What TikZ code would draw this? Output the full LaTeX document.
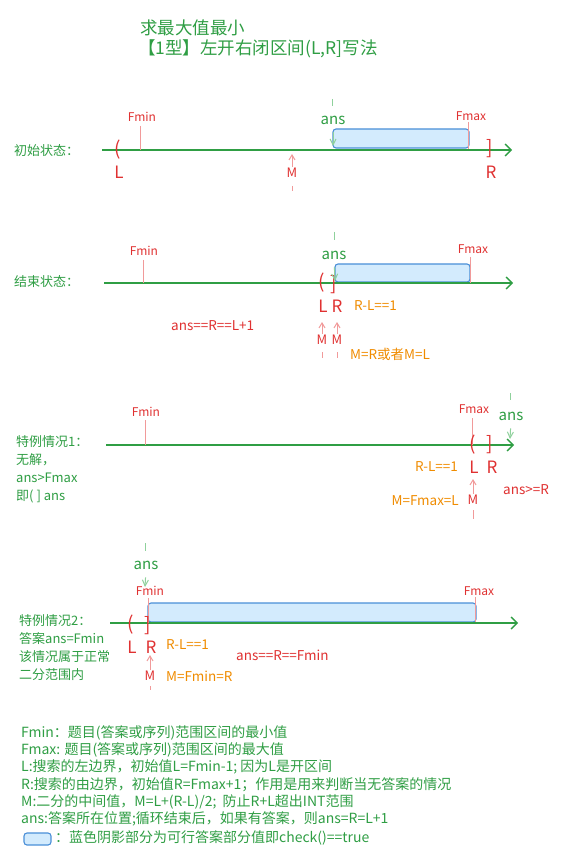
\documentclass[tikz,border=0pt]{standalone}
\usepackage{fontspec}
\setmainfont{Noto Sans CJK SC}
\usetikzlibrary{arrows.meta}
\definecolor{tgreen}{HTML}{2F9E44}
\definecolor{tred}{HTML}{E03131}
\definecolor{torange}{HTML}{F08C00}
\definecolor{tblue}{HTML}{4A8FD8}
\definecolor{tfill}{HTML}{D3EBFD}
\definecolor{tpink}{HTML}{F19A9A}
\definecolor{tlgreen}{HTML}{8FD19C}
\tikzset{
 gtext/.style={text=tgreen, font=\fontsize{13}{15}\selectfont, inner sep=0pt, anchor=west},
 legendtext/.style={text=tgreen, font=\fontsize{14}{16}\selectfont, inner sep=0pt, anchor=west},
 titletext/.style={text=tgreen, font=\fontsize{17.5}{20}\selectfont, inner sep=0pt, anchor=west},
 axisline/.style={draw=tgreen, line width=1.4pt, -{Straight Barb[length=6pt,width=12pt]}},
 tickline/.style={draw=tpink, line width=1pt},
 feas/.style={draw=tblue, fill=tfill, line width=1.1pt, rounded corners=3pt},
 flabel/.style={text=tred, font=\fontsize{12}{14}\selectfont, inner sep=0pt},
 brk/.style={text=tred, font=\fontsize{19}{21}\selectfont, inner sep=0pt},
 lrlabel/.style={text=tred, font=\fontsize{17}{19}\selectfont, inner sep=0pt},
 mlabel/.style={text=tred, font=\fontsize{13}{15}\selectfont, inner sep=1pt},
 marrow/.style={draw=tpink, line width=1pt, -{Straight Barb[length=5pt,width=6pt]}},
 mline/.style={draw=tpink, line width=1pt},
 anslabel/.style={text=tgreen, font=\fontsize{15}{17}\selectfont, inner sep=0pt},
 ansarrow/.style={draw=tlgreen, line width=1pt, -{Straight Barb[length=6pt,width=6pt]}},
 ansline/.style={draw=tlgreen, line width=1pt},
 onote/.style={text=torange, font=\fontsize{13.5}{15}\selectfont, inner sep=0pt},
 rnote/.style={text=tred, font=\fontsize{13.5}{15}\selectfont, inner sep=0pt},
}
\begin{document}
\begin{tikzpicture}[x=1pt,y=-1pt]
\useasboundingbox (0,0) rectangle (581,866);
\fill[white] (0,0) rectangle (581,866);

% title
\node[titletext] (t1) at (140,28) {求最大值最小};
\node[titletext] (t2) at (138,49) {【1型】左开右闭区间(L,R]写法};

% ---------- section 1 ----------
\node[gtext] (s1lbl) at (14,151) {初始状态：};
\draw[feas] (333,129) rectangle (469,148);
\coordinate (s1a) at (102,150);
\coordinate (s1b) at (512,150);
\draw[axisline] (s1a) -- (s1b);
\node[flabel] (s1fmin) at (142,117) {Fmin};
\draw[tickline] (140,126) -- (140,150);
\node[flabel] (s1fmax) at (471,116) {Fmax};
\draw[tickline] (468,122) -- (468,149);
\node[brk] (s1Lb) at (118,150) {(};
\node[brk] (s1Rb) at (490,149) {]};
\node[lrlabel] (s1L) at (119,172) {L};
\node[lrlabel] (s1R) at (491,172) {R};
\node[anslabel] (s1ans) at (333,120) {ans};
\coordinate (s1anstop) at (332,99);
\coordinate (s1anstip) at (333,146);
\draw[ansline] (s1anstop) -- ++(0,7);
\draw[ansarrow, shorten <=8pt] (s1ans.south) -- (s1anstip);
\node[mlabel] (s1M) at (292,173) {M};
\coordinate (s1Mtip) at (292,154);
\coordinate (s1Mtail) at (292,186);
\draw[marrow] (s1M.north) -- (s1Mtip);
\draw[mline] (s1Mtail) -- ++(0,5);

% ---------- section 2 ----------
\node[gtext] (s2lbl) at (14,282) {结束状态：};
\draw[feas] (335,264) rectangle (470,282);
\coordinate (s2a) at (104,283);
\coordinate (s2b) at (513,283);
\draw[axisline] (s2a) -- (s2b);
\node[flabel] (s2fmin) at (144,251) {Fmin};
\draw[tickline] (143,260) -- (143,283);
\node[flabel] (s2fmax) at (473,249) {Fmax};
\draw[tickline] (470,257) -- (470,283);
\node[brk] (s2Lb) at (322,283) {(};
\node[brk] (s2Rb) at (334,285) {]};
\node[lrlabel] (s2L) at (323,306) {L};
\node[lrlabel] (s2R) at (337,306) {R};
\node[onote, anchor=west] (s2n1) at (354,306) {R-L==1};
\node[rnote, anchor=west] (s2n2) at (171,326) {ans==R==L+1};
\node[anslabel] (s2ans) at (334,255) {ans};
\coordinate (s2anstop) at (334,232);
\coordinate (s2anstip) at (335,281);
\draw[ansline] (s2anstop) -- ++(0,8);
\draw[ansarrow, shorten <=8pt] (s2ans.south) -- (s2anstip);
\node[mlabel] (s2M1) at (322,340) {M};
\node[mlabel] (s2M2) at (337,340) {M};
\coordinate (s2M1tip) at (322,322);
\coordinate (s2M2tip) at (337,322);
\draw[marrow] (s2M1.north) -- (s2M1tip);
\draw[marrow] (s2M2.north) -- (s2M2tip);
\draw[mline] (322,352) -- (322,358);
\draw[mline] (337,352) -- (337,358);
\node[onote, anchor=west] (s2n3) at (350,354) {M=R或者M=L};

% ---------- section 3 ----------
\node[gtext] (s3l1) at (16,442) {特例情况1：};
\node[gtext] (s3l2) at (16,460) {无解，};
\node[gtext] (s3l3) at (16,478) {ans>Fmax};
\node[gtext] (s3l4) at (16,496) {即( ] ans};
\coordinate (s3a) at (106,445);
\coordinate (s3b) at (514,445);
\draw[axisline] (s3a) -- (s3b);
\node[flabel] (s3fmin) at (146,412) {Fmin};
\draw[tickline] (145,420) -- (145,445);
\node[flabel] (s3fmax) at (474,409) {Fmax};
\draw[tickline] (472,418) -- (472,445);
\node[brk] (s3Lb) at (473,445) {(};
\node[brk] (s3Rb) at (490,445) {]};
\node[lrlabel] (s3L) at (474,467) {L};
\node[lrlabel] (s3R) at (492,467) {R};
\node[onote, anchor=east] (s3n1) at (458,467) {R-L==1};
\node[anslabel] (s3ans) at (511,416) {ans};
\coordinate (s3anstop) at (510,393);
\coordinate (s3anstip) at (510,439);
\draw[ansline] (s3anstop) -- ++(0,7);
\draw[ansarrow, shorten <=8pt] (s3ans.south) -- (s3anstip);
\node[mlabel] (s3M) at (473,500) {M};
\coordinate (s3Mtip) at (473,479);
\draw[marrow] (s3M.north) -- (s3Mtip);
\draw[mline] (473,510) -- (473,519);
\node[onote, anchor=east] (s3n2) at (459,501) {M=Fmax=L};
\node[rnote, anchor=west] (s3n3) at (503,490) {ans>=R};

% ---------- section 4 ----------
\node[gtext] (s4l1) at (19,621) {特例情况2：};
\node[gtext] (s4l2) at (19,639) {答案ans=Fmin};
\node[gtext] (s4l3) at (19,657) {该情况属于正常};
\node[gtext] (s4l4) at (19,675) {二分范围内};
\draw[feas] (148,603) rectangle (476,622);
\coordinate (s4a) at (110,623);
\coordinate (s4b) at (518,623);
\draw[axisline] (s4a) -- (s4b);
\node[flabel] (s4fmin) at (150,591) {Fmin};
\draw[tickline] (148,598) -- (148,623);
\node[flabel] (s4fmax) at (479,591) {Fmax};
\draw[tickline] (475,597) -- (475,622);
\node[brk] (s4Lb) at (131,625) {(};
\node[brk] (s4Rb) at (148,626) {]};
\node[lrlabel] (s4L) at (132,647) {L};
\node[lrlabel] (s4R) at (151,647) {R};
\node[onote, anchor=west] (s4n1) at (166,645) {R-L==1};
\node[rnote, anchor=west] (s4n2) at (236,655) {ans==R==Fmin};
\node[anslabel] (s4ans) at (146,565) {ans};
\coordinate (s4anstop) at (145,543);
\coordinate (s4anstip) at (145,587);
\draw[ansline] (s4anstop) -- ++(0,8);
\draw[ansarrow, shorten <=8pt] (s4ans.south) -- (s4anstip);
\node[mlabel] (s4M) at (150,676) {M};
\coordinate (s4Mtip) at (150,655);
\draw[marrow] (s4M.north) -- (s4Mtip);
\draw[mline] (150,686) -- (150,690);
\node[onote, anchor=west] (s4n3) at (166,676) {M=Fmin=R};

% ---------- legend ----------
\node[legendtext] (g1) at (21,733) {Fmin：题目(答案或序列)范围区间的最小值};
\node[legendtext] (g2) at (21,750) {Fmax: 题目(答案或序列)范围区间的最大值};
\node[legendtext] (g3) at (21,767) {L:搜索的左边界，初始值L=Fmin-1; 因为L是开区间};
\node[legendtext] (g4) at (21,785) {R:搜索的由边界，初始值R=Fmax+1；作用是用来判断当无答案的情况};
\node[legendtext] (g5) at (21,802) {M:二分的中间值，M=L+(R-L)/2;\ \ 防止R+L超出INT范围};
\node[legendtext] (g6) at (21,819) {ans:答案所在位置;循环结束后，如果有答案，则ans=R=L+1};
\draw[feas] (24,833) rectangle (51,845);
\node[legendtext] (g7) at (55,838) {：蓝色阴影部分为可行答案部分值即check()==true};
\end{tikzpicture}
\end{document}
